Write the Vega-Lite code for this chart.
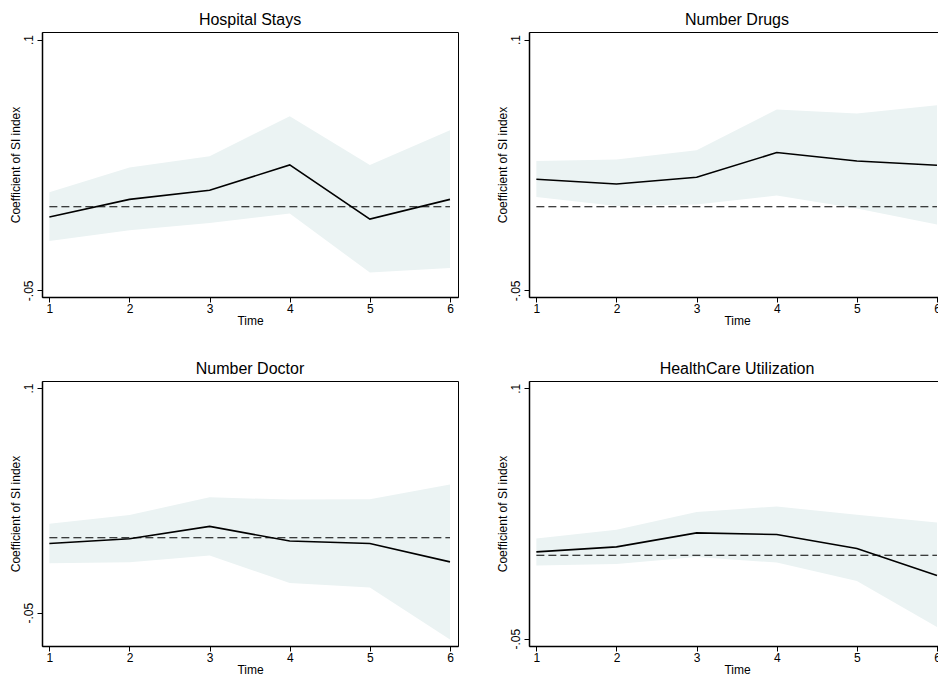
{
  "$schema": "https://vega.github.io/schema/vega-lite/v6.json",
  "padding": {"left": 8, "top": 11, "right": 0, "bottom": 0},
  "background": "white",
  "config": {
    "font": "Liberation Sans",
    "view": {"stroke": "#000", "strokeWidth": 1},
    "title": {"fontSize": 16, "fontWeight": "normal", "color": "#000", "offset": 4, "font": "Liberation Sans"},
    "axis": {
      "grid": false,
      "domainColor": "#000",
      "domainWidth": 1.5,
      "tickColor": "#000",
      "tickSize": 5,
      "tickWidth": 1,
      "labelColor": "#000",
      "labelFontSize": 12,
      "labelFont": "Liberation Sans",
      "titleColor": "#000",
      "titleFontSize": 12,
      "titleFontWeight": "normal",
      "titleFont": "Liberation Sans"
    },
    "axisX": {"labelPadding": 1, "titlePadding": 1},
    "axisY": {"labelPadding": 2, "titlePadding": 0}
  },
  "datasets": {
    "d": [
      {"panel": "Hospital Stays", "t": 1, "coef": -0.0062, "lo": -0.0205, "hi": 0.0086},
      {"panel": "Hospital Stays", "t": 2, "coef": 0.0044, "lo": -0.0141, "hi": 0.0234},
      {"panel": "Hospital Stays", "t": 3, "coef": 0.0098, "lo": -0.0097, "hi": 0.0302},
      {"panel": "Hospital Stays", "t": 4, "coef": 0.0250, "lo": -0.0041, "hi": 0.0541},
      {"panel": "Hospital Stays", "t": 5, "coef": -0.0074, "lo": -0.0394, "hi": 0.0250},
      {"panel": "Hospital Stays", "t": 6, "coef": 0.0044, "lo": -0.0367, "hi": 0.0457},
      {"panel": "Number Drugs", "t": 1, "coef": 0.0164, "lo": 0.0058, "hi": 0.0273},
      {"panel": "Number Drugs", "t": 2, "coef": 0.0136, "lo": 0.0004, "hi": 0.0282},
      {"panel": "Number Drugs", "t": 3, "coef": 0.0176, "lo": 0.0013, "hi": 0.0338},
      {"panel": "Number Drugs", "t": 4, "coef": 0.0324, "lo": 0.0067, "hi": 0.0581},
      {"panel": "Number Drugs", "t": 5, "coef": 0.0273, "lo": -0.0011, "hi": 0.0557},
      {"panel": "Number Drugs", "t": 6, "coef": 0.0248, "lo": -0.0107, "hi": 0.0607},
      {"panel": "Number Doctor", "t": 1, "coef": -0.0038, "lo": -0.0170, "hi": 0.0094},
      {"panel": "Number Doctor", "t": 2, "coef": -0.0007, "lo": -0.0163, "hi": 0.0152},
      {"panel": "Number Doctor", "t": 3, "coef": 0.0076, "lo": -0.0119, "hi": 0.0270},
      {"panel": "Number Doctor", "t": 4, "coef": -0.0022, "lo": -0.0303, "hi": 0.0255},
      {"panel": "Number Doctor", "t": 5, "coef": -0.0038, "lo": -0.0333, "hi": 0.0257},
      {"panel": "Number Doctor", "t": 6, "coef": -0.0161, "lo": -0.0679, "hi": 0.0355},
      {"panel": "HealthCare Utilization", "t": 1, "coef": 0.0020, "lo": -0.0062, "hi": 0.0100},
      {"panel": "HealthCare Utilization", "t": 2, "coef": 0.0050, "lo": -0.0053, "hi": 0.0152},
      {"panel": "HealthCare Utilization", "t": 3, "coef": 0.0134, "lo": -0.0010, "hi": 0.0259},
      {"panel": "HealthCare Utilization", "t": 4, "coef": 0.0124, "lo": -0.0044, "hi": 0.0292},
      {"panel": "HealthCare Utilization", "t": 5, "coef": 0.0040, "lo": -0.0154, "hi": 0.0242},
      {"panel": "HealthCare Utilization", "t": 6, "coef": -0.0122, "lo": -0.0430, "hi": 0.0196}
    ]
  },
  "columns": 2,
  "spacing": {"column": 36, "row": 33},
  "concat": [
    {
      "title": "Hospital Stays",
      "width": 416, "height": 265,
      "data": {"name": "d"},
      "transform": [{"filter": "datum.panel == 'Hospital Stays'"}],
      "encoding": {
        "x": {"field": "t", "type": "quantitative", "title": "Time", "scale": {"domain": [0.908, 6.1], "nice": false, "zero": false}, "axis": {"values": [1, 2, 3, 4, 5, 6], "format": "d"}}
      },
      "layer": [
        {"mark": {"type": "area", "color": "#EBF3F3", "opacity": 1}, "encoding": {"y": {"field": "hi", "type": "quantitative", "title": "Coefficient of SI index", "scale": {"domain": [-0.054, 0.1045], "nice": false, "zero": false}, "axis": {"values": [-0.05, 0.1], "labelAngle": -90, "labelExpr": "datum.value > 0 ? '.1' : '-.05'"}}, "y2": {"field": "lo"}}},
        {"mark": {"type": "line", "color": "#000", "strokeWidth": 1.1, "strokeDash": [8, 4]}, "encoding": {"y": {"datum": 0}}},
        {"mark": {"type": "line", "color": "#000", "strokeWidth": 1.6}, "encoding": {"y": {"field": "coef", "type": "quantitative"}}}
      ]
    },
    {
      "title": "Number Drugs",
      "width": 416, "height": 265,
      "data": {"name": "d"},
      "transform": [{"filter": "datum.panel == 'Number Drugs'"}],
      "encoding": {
        "x": {"field": "t", "type": "quantitative", "title": "Time", "scale": {"domain": [0.908, 6.1], "nice": false, "zero": false}, "axis": {"values": [1, 2, 3, 4, 5, 6], "format": "d"}}
      },
      "layer": [
        {"mark": {"type": "area", "color": "#EBF3F3", "opacity": 1}, "encoding": {"y": {"field": "hi", "type": "quantitative", "title": "Coefficient of SI index", "scale": {"domain": [-0.054, 0.1045], "nice": false, "zero": false}, "axis": {"values": [-0.05, 0.1], "labelAngle": -90, "labelExpr": "datum.value > 0 ? '.1' : '-.05'"}}, "y2": {"field": "lo"}}},
        {"mark": {"type": "line", "color": "#000", "strokeWidth": 1.1, "strokeDash": [8, 4]}, "encoding": {"y": {"datum": 0}}},
        {"mark": {"type": "line", "color": "#000", "strokeWidth": 1.6}, "encoding": {"y": {"field": "coef", "type": "quantitative"}}}
      ]
    },
    {
      "title": "Number Doctor",
      "width": 416, "height": 265,
      "data": {"name": "d"},
      "transform": [{"filter": "datum.panel == 'Number Doctor'"}],
      "encoding": {
        "x": {"field": "t", "type": "quantitative", "title": "Time", "scale": {"domain": [0.908, 6.1], "nice": false, "zero": false}, "axis": {"values": [1, 2, 3, 4, 5, 6], "format": "d"}}
      },
      "layer": [
        {"mark": {"type": "area", "color": "#EBF3F3", "opacity": 1}, "encoding": {"y": {"field": "hi", "type": "quantitative", "title": "Coefficient of SI index", "scale": {"domain": [-0.0723, 0.1047], "nice": false, "zero": false}, "axis": {"values": [-0.05, 0.1], "labelAngle": -90, "labelExpr": "datum.value > 0 ? '.1' : '-.05'"}}, "y2": {"field": "lo"}}},
        {"mark": {"type": "line", "color": "#000", "strokeWidth": 1.1, "strokeDash": [8, 4]}, "encoding": {"y": {"datum": 0}}},
        {"mark": {"type": "line", "color": "#000", "strokeWidth": 1.6}, "encoding": {"y": {"field": "coef", "type": "quantitative"}}}
      ]
    },
    {
      "title": "HealthCare Utilization",
      "width": 416, "height": 265,
      "data": {"name": "d"},
      "transform": [{"filter": "datum.panel == 'HealthCare Utilization'"}],
      "encoding": {
        "x": {"field": "t", "type": "quantitative", "title": "Time", "scale": {"domain": [0.908, 6.1], "nice": false, "zero": false}, "axis": {"values": [1, 2, 3, 4, 5, 6], "format": "d"}}
      },
      "layer": [
        {"mark": {"type": "area", "color": "#EBF3F3", "opacity": 1}, "encoding": {"y": {"field": "hi", "type": "quantitative", "title": "Coefficient of SI index", "scale": {"domain": [-0.0544, 0.1044], "nice": false, "zero": false}, "axis": {"values": [-0.05, 0.1], "labelAngle": -90, "labelExpr": "datum.value > 0 ? '.1' : '-.05'"}}, "y2": {"field": "lo"}}},
        {"mark": {"type": "line", "color": "#000", "strokeWidth": 1.1, "strokeDash": [8, 4]}, "encoding": {"y": {"datum": 0}}},
        {"mark": {"type": "line", "color": "#000", "strokeWidth": 1.6}, "encoding": {"y": {"field": "coef", "type": "quantitative"}}}
      ]
    }
  ]
}
